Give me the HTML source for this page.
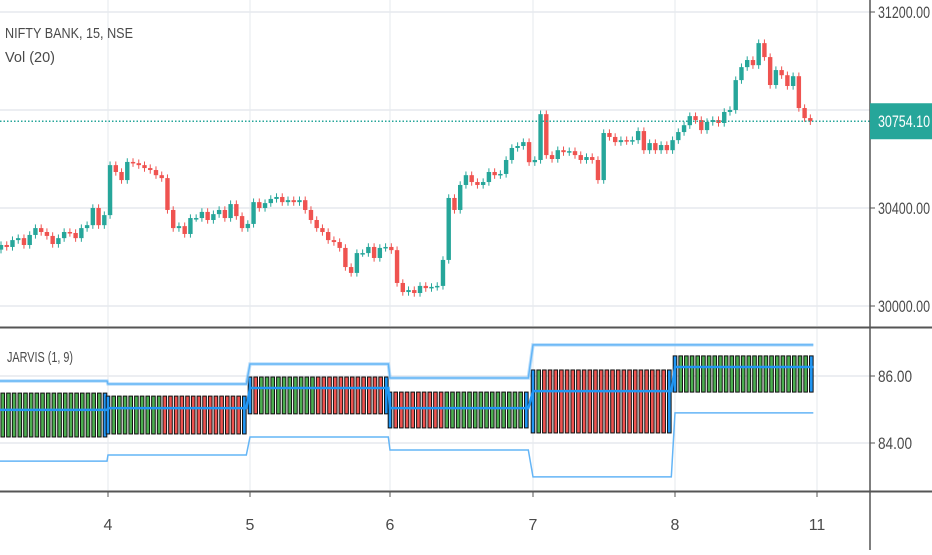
<!DOCTYPE html>
<html><head><meta charset="utf-8"><style>
body{margin:0;background:#fff;width:932px;height:550px;overflow:hidden;font-family:"Liberation Sans",sans-serif}
svg text{font-family:"Liberation Sans",sans-serif}
</style></head><body>
<svg id="c" width="932" height="550" xmlns="http://www.w3.org/2000/svg"></svg>
<script>
const closes=[30249,30241,30269,30277,30249,30290,30318,30302,30286,30253,30277,30302,30298,30277,30318,30330,30400,30330,30371,
30575,30547,30514,30588,30583,30575,30563,30555,30534,30522,30392,30318,30326,30294,30359,30359,30384,30351,30375,30392,30359,30416,30367,30318,30335,
30424,30400,30420,30437,30445,30424,30432,30424,30432,30392,30351,30318,30302,30269,30261,30237,30159,30135,30216,30216,30241,30196,30237,30241,30228,30094,
30057,30065,30053,30082,30073,30078,30082,30188,30441,30392,30494,30534,30506,30494,30506,30547,30534,30539,30596,30645,30653,30669,30587,30596,30783,
30616,30600,30636,30628,30632,30616,30596,30608,30596,30514,30706,30690,30669,30677,30673,30677,30714,30636,30665,30636,30657,30636,30677,
30710,30738,30775,30759,30718,30751,30759,30747,30792,30800,30922,30975,31004,30983,31073,31016,30902,30963,30942,30898,30938,30808,30767,30754];
const firstOpen=30230;
const priceTicks=[31200,30800,30400,30000];
const priceLabels=["31200.00","","30400.00","30000.00"];
const lastPrice=30754.10;
const dayLabels=["4","5","6","7","8","11"];
const segUpper=[85.85,85.76,86.36,85.94,86.93,86.93];
const segLower=[83.46,83.64,84.18,83.79,82.99,84.90];
const segMid=[84.99,85.04,85.64,85.04,85.55,86.27];
const segTop=[85.49,85.40,85.97,85.52,86.18,86.60];
const segBot=[84.18,84.27,84.87,84.45,84.30,85.52];
const segColors=["GGGGGGGGGGGGGGGGGGB","BGGGGGGGGGRRRRRRRRRRRRRRB","BRGGGGGGGGGGRRRRRRRRRRRRB","BRRRRRRRRRGGGGGGGGGGGGGGB","BGRRRRRRRRRRRRRRRRRRRRRRB","BGGGGGGGGGGGGGGGGGGGGGGGB"];
const osTicks=[86,84];

const svg=document.getElementById('c');
const NS='http://www.w3.org/2000/svg';
function mk(t,a,p){const e=document.createElementNS(NS,t);for(const k in a)e.setAttribute(k,a[k]);(p||svg).appendChild(e);return e;}
const py=p=>306-(p-30000)*0.245;
const oy=v=>376-(v-86)*33.5;
const dayX=[108,250,390,533,675,817];
const step=5.74;
const cx=i=>1+i*step;
const grid=mk('g',{});


priceTicks.forEach(p=>mk('line',{x1:0,x2:870,y1:py(p),y2:py(p),stroke:'#e6e9ee','stroke-width':1.5},grid));
osTicks.forEach(v=>mk('line',{x1:0,x2:870,y1:oy(v),y2:oy(v),stroke:'#e6e9ee','stroke-width':1.5},grid));
dayX.forEach(x=>{mk('line',{x1:x,x2:x,y1:0,y2:326,stroke:'#e6e9ee'},grid);mk('line',{x1:x,x2:x,y1:329,y2:490,stroke:'#e6e9ee'},grid);});
const cg=mk('g',{});


closes.forEach((c,i)=>{
 const o=i?closes[i-1]:firstOpen;
 const col=c>=o?'#26a69a':'#ef5350';
 const x=cx(i);
 const hi=Math.max(o,c)+15, lo=Math.min(o,c)-15;
 const g=mk('g',{},cg);
 
 
 mk('line',{x1:x,x2:x,y1:py(hi),y2:py(lo),stroke:col,'stroke-width':1},g);
 const t=Math.min(py(o),py(c)),h=Math.max(1.5,Math.abs(py(o)-py(c)));
 mk('rect',{x:x-2.2,y:t,width:4.4,height:h,fill:col},g);
});
const lp=mk('line',{x1:0,x2:870,y1:py(lastPrice),y2:py(lastPrice),stroke:'#26a69a','stroke-width':1.5,'stroke-dasharray':'1.5 2'});


const og=mk('g',{});


const segStart=[1,108,250,390,533,675];
const cmap={G:'#4caf50',R:'#ef5350',B:'#2196f3'};
let up=[],lw=[],md=[];
segColors.forEach((s,k)=>{
 const n=s.length;
 const x0=k===0?105-(n-1)*5.68:segStart[k];
 const xe=x0+(n-1)*5.68;
 for(let j=0;j<n;j++){
  const r=mk('rect',{x:x0+j*5.68-1.8,y:oy(segTop[k]),width:3.6,height:oy(segBot[k])-oy(segTop[k]),fill:cmap[s[j]],stroke:'#111','stroke-width':1},og);
  
  
 }
 const a=k===0?0:x0, b=xe+2;
 up.push(a+','+oy(segUpper[k]),b+','+oy(segUpper[k]));
 lw.push(a+','+oy(segLower[k]),b+','+oy(segLower[k]));
 md.push(a+','+oy(segMid[k]),b+','+oy(segMid[k]));
});
const u=mk('polyline',{points:up.join(' '),fill:'none',stroke:'#90caf9','stroke-width':3.5,opacity:0.6},og);

const u2=mk('polyline',{points:up.join(' '),fill:'none',stroke:'#64b5f6','stroke-width':1.5},og);

const l2=mk('polyline',{points:lw.join(' '),fill:'none',stroke:'#64b5f6','stroke-width':1.5},og);

const m2=mk('polyline',{points:md.join(' '),fill:'none',stroke:'#2196f3','stroke-width':2.5},og);

const ax=mk('g',{});


mk('line',{x1:870,x2:870,y1:0,y2:550,stroke:'#555','stroke-width':1.5},ax);
mk('line',{x1:0,x2:932,y1:327.5,y2:327.5,stroke:'#555','stroke-width':2},ax);
mk('line',{x1:0,x2:932,y1:491.5,y2:491.5,stroke:'#555','stroke-width':2},ax);
priceTicks.forEach((p,i)=>{if(!priceLabels[i])return;
 mk('line',{x1:870,x2:875,y1:py(p),y2:py(p),stroke:'#555'},ax);
 const t=mk('text',{x:878,y:py(p)+6,'font-size':17,fill:'#4a4a4a',textLength:52,lengthAdjust:'spacingAndGlyphs'},ax);t.textContent=priceLabels[i];
 });
osTicks.forEach(v=>{
 mk('line',{x1:870,x2:875,y1:oy(v),y2:oy(v),stroke:'#555'},ax);
 const t=mk('text',{x:878,y:oy(v)+6,'font-size':17,fill:'#4a4a4a',textLength:34,lengthAdjust:'spacingAndGlyphs'},ax);t.textContent=v.toFixed(2);
 });
dayX.forEach((x,i)=>{
 mk('line',{x1:x,x2:x,y1:492,y2:497,stroke:'#555'},ax);
 const t=mk('text',{x:x,y:530,'font-size':16,fill:'#4a4a4a','text-anchor':'middle'},ax);t.textContent=dayLabels[i];
 });
const bg=mk('g',{});


mk('rect',{x:870,y:py(lastPrice)-18,width:62,height:36,fill:'#26a69a'},bg);
const bt=mk('text',{x:878,y:py(lastPrice)+6,'font-size':17,fill:'#fff',textLength:52,lengthAdjust:'spacingAndGlyphs'},bg);bt.textContent=lastPrice.toFixed(2);
[["NIFTY BANK, 15, NSE",5,38,'symbol-title',128],["Vol (20)",5,62,'volume-legend',50],["JARVIS (1, 9)",7,362,'jarvis-legend',66]].forEach(a=>{
 const t=mk('text',{x:a[1],y:a[2],'font-size':15,fill:'#4a4a4a',textLength:a[4],lengthAdjust:'spacingAndGlyphs'});t.textContent=a[0];
 });
</script>
</body></html>
